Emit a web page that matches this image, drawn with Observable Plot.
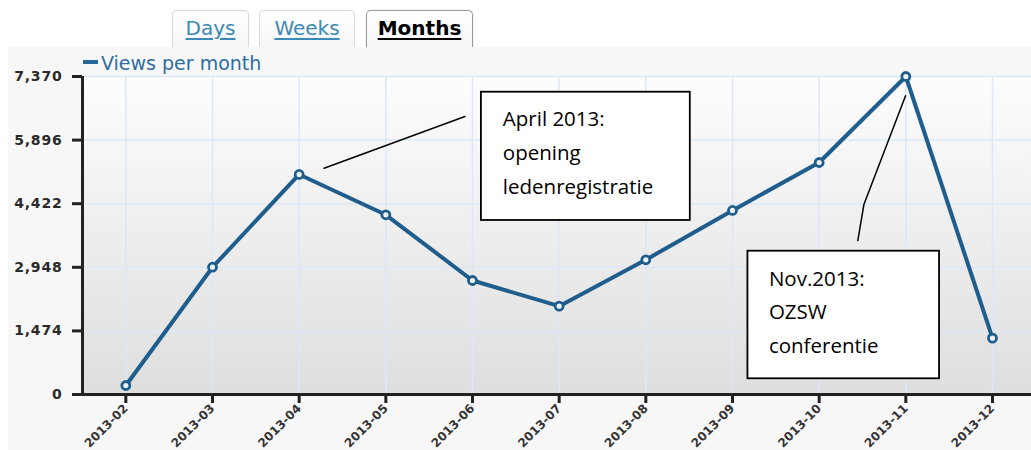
<!DOCTYPE html>
<html>
<head>
<meta charset="utf-8">
<script src="https://cdn.jsdelivr.net/npm/d3@7"></script>
<script src="https://cdn.jsdelivr.net/npm/@observablehq/plot@0.6"></script>
<style>
  html, body { margin: 0; padding: 0; background: #fff; }
  #tabs { position: relative; height: 47px; width: 1031px; background: #fff; }
  .tab { position: absolute; top: 10px; height: 37px; box-sizing: border-box;
         border: 1px solid #d9d9d9; border-bottom: none; border-radius: 5px 5px 0 0;
         background: linear-gradient(#ffffff, #f6f6f6);
         font-family: "DejaVu Sans", sans-serif; font-size: 20px; text-align: center;
         padding-top: 5px; color: #3b89b6; }
  .tab span { text-decoration: underline; text-underline-offset: 3px; }
  .tab.active { border-color: #9a9a9a; color: #000; font-weight: bold; box-shadow: 0 0 2px rgba(0,0,0,0.15); }
  #chart { position: relative; margin-left: 8px; width: 1023px; height: 403px; background: #f7f7f7; }
  #legend { position: absolute; left: 75px; top: 5px; font-family: "DejaVu Sans", sans-serif;
            font-size: 19px; color: #2f6d9e; }
  #legend .swatch { position: absolute; left: 0; top: 8px; width: 15px; height: 4px; background: #2a6799; }
  #legend .label { position: absolute; left: 18px; top: 0; white-space: nowrap; }
  g[aria-label="y-axis tick label"] { letter-spacing: 0.8px; font-weight: bold; font-size: 14px; }
  g[aria-label="x-axis tick label"] { font-weight: bold; font-size: 12px; }
</style>
</head>
<body>
<div id="tabs">
  <div class="tab" style="left:172px;width:77px"><span>Days</span></div>
  <div class="tab" style="left:259px;width:96px"><span>Weeks</span></div>
  <div class="tab active" style="left:366px;width:107px"><span>Months</span></div>
</div>
<div id="chart">
  <div id="legend"><div class="swatch"></div><div class="label">Views per month</div></div>
</div>
<script>
// ---- data ----
const months = ["2013-02","2013-03","2013-04","2013-05","2013-06","2013-07","2013-08","2013-09","2013-10","2013-11","2013-12"];
const views = [209, 2950, 5100, 4165, 2642, 2047, 3122, 4265, 5377, 7370, 1305];
const yTicks = [0, 1474, 2948, 4422, 5896, 7370];

// annotation boxes (data coordinates: month index, views)
const noteTexts = ["April 2013:\nopening\nledenregistratie", "Nov.2013:\nOZSW\nconferentie"];
const noteX = [4.35, 7.42];
const noteY = [6766, 3073];
const boxX1 = [4.103, 7.178];
const boxX2 = [6.513, 9.389];
const boxY1 = [4033, 364];
const boxY2 = [7006, 3321];
const leaderNote = [0, 0, 1, 1, 1];
const leaderX = [2.287, 3.913, 8.997, 8.516, 8.446];
const leaderY = [5245, 6443, 6924, 4403, 3569];

const xDomain = [-0.5, 10.45];
const idx = months.map((d, i) => i);
const notes = noteTexts.map((t, i) => ({text: t, x: noteX[i], y: noteY[i], x1: boxX1[i], x2: boxX2[i], y1: boxY1[i], y2: boxY2[i]}));
const leaders = leaderX.map((x, i) => ({note: leaderNote[i], x, y: leaderY[i]}));
const series = months.map((m, i) => ({i, month: m, views: views[i]}));

const lineColor = "#1f5d8c";

const plot = Plot.plot({
  width: 1023,
  height: 403,
  marginLeft: 74,
  marginRight: 0,
  marginTop: 29,
  marginBottom: 56,
  x: {domain: xDomain, axis: null},
  y: {domain: [0, 7370], axis: null},
  style: {background: "transparent", fontFamily: "DejaVu Sans", overflow: "visible"},
  marks: [
    Plot.frame({fill: "url(#plotBg)", stroke: "none"}),
    Plot.ruleY(yTicks, {stroke: "#dce8f7", strokeWidth: 1.5}),
    Plot.ruleX(idx, {stroke: "#dce8f7", strokeWidth: 1.5}),
    Plot.rect(notes, {x1: "x1", x2: "x2", y1: "y1", y2: "y2", fill: "#fff", stroke: "#000", strokeWidth: 1.8}),
    Plot.text(notes, {x: "x", y: "y", text: "text", textAnchor: "start", lineAnchor: "top", lineHeight: 1.64,
                      fontSize: 20.5, fontFamily: "Open Sans", fill: "#000"}),
    Plot.line(leaders, {x: "x", y: "y", z: "note", stroke: "#000", strokeWidth: 1.5}),
    Plot.line(series, {x: "i", y: "views", stroke: lineColor, strokeWidth: 4, strokeLinejoin: "round"}),
    Plot.dot(series, {x: "i", y: "views", r: 4, stroke: lineColor, strokeWidth: 2.8, fill: "#eef1f4"}),
    Plot.ruleY([0], {stroke: "#222", strokeWidth: 3}),
    Plot.ruleX([xDomain[0]], {stroke: "#222", strokeWidth: 3}),
    Plot.axisY({ticks: yTicks, tickSize: 10, tickPadding: 10, tickFormat: d3.format(","),
                strokeWidth: 3, stroke: "#222", fill: "#2a2a2a", fontSize: 14}),
    Plot.axisX({ticks: idx, tickFormat: i => months[i], tickRotate: -45, tickSize: 9, tickPadding: 3,
                strokeWidth: 3, stroke: "#222", fill: "#333", fontSize: 12})
  ]
});

const defs = d3.select(plot).insert("defs", ":first-child");
const grad = defs.append("linearGradient").attr("id", "plotBg")
  .attr("x1", 0).attr("y1", 0).attr("x2", 0).attr("y2", 1);
grad.append("stop").attr("offset", "0%").attr("stop-color", "#fdfdfd");
grad.append("stop").attr("offset", "100%").attr("stop-color", "#dedede");

plot.style.position = "absolute";
plot.style.left = "0px";
plot.style.top = "0px";
document.getElementById("chart").insertBefore(plot, document.getElementById("legend"));
</script>
</body>
</html>
